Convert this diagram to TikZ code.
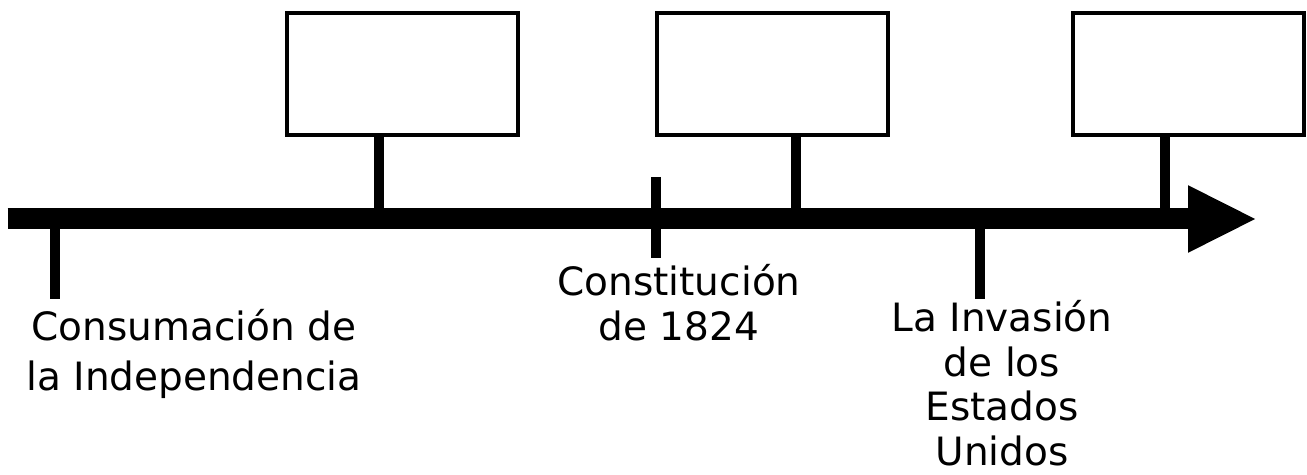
\documentclass[tikz,border=0pt]{standalone}
\usepackage{fontspec}
\setmainfont{DejaVu Sans}
\usetikzlibrary{arrows.meta}

\tikzset{
  caja/.style={draw,line width=2pt,minimum width=115.5pt,minimum height=61pt,inner sep=0pt},
  marca/.style={line width=5.25pt},
  eje/.style={line width=10.5pt,-{Triangle[length=34.5pt,width=31pt]}},
  texto/.style={align=center,inner sep=0pt,anchor=north,font=\fontsize{19.5}{22.3}\selectfont}
}

\begin{document}
\begin{tikzpicture}[x=0.5pt,y=-0.5pt]
                \useasboundingbox (0,0) rectangle (1307,475);
                % eje del tiempo
                \coordinate (inicio) at (7.5,219);
                \coordinate (fin) at (1257,219);
                \draw[eje] (inicio) -- (fin);
                % cajas vacias
                \node[caja] (caja1) at (402,74) {};
                \node[caja] (caja2) at (772.5,74) {};
                \node[caja] (caja3) at (1188.5,74) {};
                \coordinate (arriba1) at (379,219);
                \coordinate (arriba2) at (796,219);
                \coordinate (arriba3) at (1165,219);
                \draw[marca] (caja1.south -| arriba1) -- (arriba1);
                \draw[marca] (caja2.south -| arriba2) -- (arriba2);
                \draw[marca] (caja3.south -| arriba3) -- (arriba3);
                % marcas con texto
                \coordinate (abajo1) at (55,219);
                \coordinate (abajo1fin) at (55,299);
                \coordinate (corte) at (656,177);
                \coordinate (cortefin) at (656,258);
                \coordinate (abajo2) at (980,219);
                \coordinate (abajo2fin) at (980,299);
                \draw[marca] (abajo1) -- (abajo1fin);
                \draw[marca] (corte) -- (cortefin);
                \draw[marca] (abajo2) -- (abajo2fin);
                \node[texto,font=\fontsize{19.5}{25}\selectfont] (consumacion) at (194,309) {Consumación de\\la Independencia};
                \node[texto] (constitucion) at (679,264) {Constitución\\de 1824};
                \node[texto] (invasion) at (1002,300) {La Invasión\\de los\\Estados\\Unidos};
\end{tikzpicture}
\end{document}
